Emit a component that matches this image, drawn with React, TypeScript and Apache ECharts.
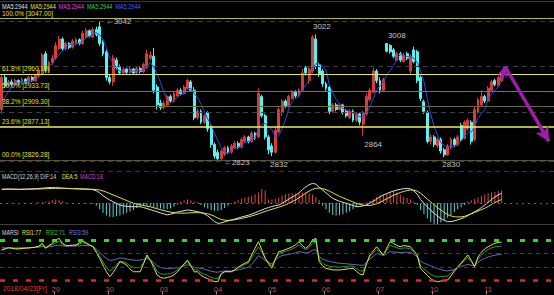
import React, { useEffect, useRef } from "react";
import * as echarts from "echarts";

// candles: [open, close, low, high]
const ohlc: number[][] = [
  [2905, 2955, 2898, 2958], [2955, 2942, 2938, 2960], [2942, 2948, 2940, 2951], [2948, 2944, 2940, 2952],
  [2944, 2950, 2942, 2953], [2950, 2946, 2943, 2952], [2946, 2952, 2944, 2955], [2952, 2947, 2944, 2954],
  [2947, 2955, 2945, 2958], [2955, 2950, 2948, 2957], [2950, 2958, 2948, 2961], [2958, 2966, 2955, 2970],
  [2960, 2990, 2958, 2993], [2992, 2965, 2962, 2996], [2965, 2978, 2963, 2981], [2978, 2985, 2975, 2990],
  [2985, 3005, 2982, 3010], [3000, 3015, 2998, 3020], [3015, 3000, 2996, 3018], [3000, 3008, 2997, 3011],
  [3008, 3002, 2999, 3010], [3002, 3012, 3000, 3015], [3008, 3014, 3005, 3017], [3014, 3008, 3005, 3016],
  [3008, 3024, 3006, 3028], [3018, 3028, 3015, 3032], [3028, 3020, 3017, 3030], [3018, 3030, 3016, 3033],
  [3030, 3022, 3019, 3034], [3034, 3008, 3004, 3042], [3010, 2992, 2988, 3013], [2995, 2955, 2950, 2998],
  [2955, 2948, 2944, 2960], [2948, 2985, 2942, 2990], [2982, 2970, 2967, 2986], [2972, 2962, 2959, 2975],
  [2962, 2968, 2960, 2971], [2968, 2963, 2960, 2970], [2963, 2968, 2961, 2971], [2968, 2962, 2959, 2970],
  [2962, 2969, 2960, 2972], [2969, 2964, 2961, 2971], [2964, 2975, 2962, 2978], [2970, 2992, 2968, 2998],
  [2985, 2990, 2982, 2996], [2988, 2935, 2930, 3001], [2940, 2912, 2905, 2944], [2915, 2908, 2904, 2920],
  [2908, 2915, 2905, 2918], [2912, 2925, 2910, 2928], [2925, 2918, 2915, 2928], [2918, 2930, 2916, 2933],
  [2926, 2935, 2924, 2938], [2935, 2930, 2927, 2938], [2930, 2940, 2928, 2943], [2938, 2950, 2936, 2953],
  [2948, 2935, 2932, 2951], [2935, 2892, 2888, 2940], [2892, 2902, 2889, 2906], [2902, 2885, 2882, 2905],
  [2885, 2895, 2882, 2898], [2900, 2875, 2870, 2902], [2878, 2850, 2845, 2880], [2850, 2832, 2828, 2853],
  [2838, 2828, 2823, 2842], [2828, 2840, 2826, 2843], [2835, 2845, 2832, 2848], [2845, 2838, 2835, 2848],
  [2838, 2848, 2836, 2851], [2845, 2852, 2843, 2855], [2852, 2846, 2843, 2855], [2846, 2858, 2844, 2861],
  [2855, 2862, 2853, 2865], [2862, 2855, 2852, 2864], [2855, 2868, 2853, 2871], [2868, 2860, 2857, 2870],
  [2862, 2930, 2860, 2938], [2925, 2895, 2892, 2928], [2895, 2862, 2858, 2898], [2862, 2842, 2835, 2865],
  [2848, 2838, 2832, 2852], [2838, 2872, 2836, 2878], [2870, 2905, 2868, 2908], [2900, 2918, 2895, 2921],
  [2918, 2910, 2907, 2921], [2910, 2925, 2908, 2928], [2922, 2932, 2920, 2935], [2932, 2926, 2923, 2935],
  [2926, 2935, 2924, 2938], [2935, 2962, 2933, 2968], [2970, 2962, 2958, 2973], [2950, 2968, 2945, 2971],
  [2965, 3018, 2962, 3021], [3015, 2972, 2968, 3022], [2975, 2960, 2956, 2978], [2965, 2945, 2940, 2968],
  [2945, 2938, 2934, 2948], [2940, 2902, 2898, 2942], [2902, 2912, 2900, 2915], [2912, 2905, 2902, 2915],
  [2905, 2912, 2903, 2915], [2912, 2900, 2897, 2914], [2902, 2895, 2892, 2905], [2892, 2902, 2890, 2905],
  [2902, 2888, 2885, 2905], [2888, 2898, 2885, 2901], [2898, 2885, 2880, 2900], [2882, 2900, 2864, 2903],
  [2898, 2925, 2895, 2930], [2920, 2935, 2918, 2938], [2932, 2965, 2930, 2970], [2965, 2950, 2946, 2968],
  [2950, 2935, 2930, 2955], [2935, 2952, 2932, 2955], [3008, 2996, 2994, 3008], [3005, 2995, 2992, 3007],
  [2998, 2988, 2985, 3001], [2982, 2992, 2980, 2995], [2992, 2982, 2979, 2995], [2980, 2990, 2978, 2993],
  [2992, 2985, 2982, 2995], [2965, 2988, 2960, 2991], [2998, 2980, 2977, 3003], [2995, 2950, 2946, 2998],
  [2955, 2922, 2918, 2958], [2917, 2902, 2898, 2920], [2900, 2855, 2852, 2903], [2855, 2862, 2850, 2866],
  [2862, 2850, 2846, 2865], [2848, 2858, 2845, 2861], [2858, 2840, 2836, 2861], [2842, 2834, 2830, 2845],
  [2834, 2848, 2832, 2851], [2845, 2858, 2843, 2861], [2858, 2850, 2847, 2861], [2850, 2862, 2848, 2865],
  [2880, 2858, 2855, 2884], [2860, 2885, 2858, 2888], [2875, 2888, 2872, 2891], [2885, 2855, 2850, 2888],
  [2858, 2905, 2855, 2910], [2900, 2920, 2898, 2923], [2912, 2925, 2910, 2935], [2925, 2918, 2915, 2928],
  [2918, 2938, 2916, 2941], [2935, 2948, 2933, 2951], [2950, 2944, 2941, 2953], [2942, 2955, 2940, 2958],
  [2950, 2960, 2948, 2964],
];
const priorCloses = [2890, 2900, 2905, 2915];

const dif = [
  19.6, 19.8, 20, 19.8, 19.6, 19.4, 19.6, 19.8, 20, 20.2,
  20.4, 20.8, 21.2, 21.6, 21.9, 22, 21.8, 21.6, 21.2, 20.8,
  20.6, 20.4, 20.2, 20, 19.8, 19.6, 19.4, 19,
  17.5, 14.5, 10.5, 7, 4.3, 1.5, -0.5, -2.9, -4, -4.8,
  -5.3, -5.3, -5.3, -5.3, -6.5, -8, -9.5, -11, -12.5, -14.2,
  -15.5, -17, -16, -14.5, -13, -12, -11, -10, -10.5, -11.5,
  -12.4, -13.5, -15.5, -18.5, -22.5, -26.5, -29, -28.5, -27, -25.5,
  -24.3, -23, -21.5, -20, -18.8, -17.5, -16, -14, -12, -10,
  -8, -6.5, -5, -3.8, -2.9, -0.5, 2.5, 5.5, 8.5, 11,
  14.5, 19, 23, 26, 28, 27, 22.5, 18.6, 14.5, 10.5,
  6.7, 4.5, 2.5, 1, -0.4, -2, -3.5, -5.3, -5, -4,
  -2.9, 0, 2.5, 5.5, 9, 11.5, 13.5, 15.5, 17, 18.5,
  19.5, 20.5, 21, 20, 17.5, 12.5, 5, -0.5, -5.5, -10.5,
  -14.5, -18.5, -22, -25, -26.7, -26.5, -25.5, -24, -22.5, -20.5,
  -18, -15, -12.5, -10, -6.5, -3, 1, 5, 8.5, 11.5, 14,
];
const dea = [
  19.6, 19.6, 19.7, 19.7, 19.7, 19.6, 19.6, 19.6, 19.7, 19.8,
  19.9, 20, 20.2, 20.4, 20.6, 20.8, 21, 21, 21, 20.9,
  20.8, 20.6, 20.5, 20.4, 20.2, 20, 19.8, 19.6,
  19.3, 18.6, 17.2, 15.5, 13.5, 11.5, 9.5, 7.5, 5.5, 3.5,
  1.5, -0.4, -1.5, -2.5, -3.5, -4.5, -5.5, -6.8, -8.2, -9.5,
  -10.8, -12, -13, -13.8, -14.3, -14.5, -14.5, -14.3, -14, -13.8,
  -13.8, -14, -14.5, -15.5, -17, -19, -21.5, -23.5, -24.5, -24.8,
  -24.5, -24, -23, -22, -21, -19.8, -18.5, -17, -15.5, -13.8,
  -12, -10.5, -9, -7.5, -6, -4.5, -2.5, -0.5, 2, 4.5,
  7.5, 10.5, 14, 17, 19.5, 21, 21.2, 20.5, 19, 17,
  14.5, 12, 9.5, 7.5, 5.5, 3.5, 1.5, -0.5, -2, -3,
  -3.5, -3.5, -2.5, -1, 1, 3.5, 6, 8.5, 11, 13,
  15, 16.5, 17.8, 18.6, 18.5, 17, 14, 10, 5.5, 1.5,
  -2.5, -6.5, -10, -13.5, -16.5, -18.5, -19.6, -20, -19.8, -19,
  -17.5, -15.5, -13.5, -11.5, -9.5, -7.5, -5, -2, 0.5, 3, 5,
];
const macdHist = [
  0.5, -0.5, 0.5, 0.5, -0.5, -0.5, 0.5, 0.5, 0.5, 0.5, 0.5, 1, 1, 1.5,
  2, 4, 5, 4, 2, 1, 0.5, -0.5, -0.5, -0.5, -0.5, -0.5, -0.5, -1,
  -4, -9, -14, -18, -19.6, -20, -19, -18, -16, -14,
  -12, -10, -7, -5, -4, -4, -5, -6, -7, -8,
  -9, -9, -8, -5, -2, 2, 4, 5, 4, 2, 1,
  -3, -6, -8, -10, -11, -11, -10, -7, -4, -1,
  2, 4, 6, 8, 9, 10, 12, 15, 20, 18,
  5, 5, 6, 8, 11, 13, 14, 14, 14, 14,
  15, 15, 14, 12, 9, 4, -4, -9, -14, -17,
  -18, -17, -16, -14, -12, -9, -5, -3, -1, 1,
  3, 6, 9, 11, 12, 13, 15, 16, 15, 12,
  9, 7, 5, 2, -3, -10, -16, -22, -27, -30,
  -30, -28, -25, -21, -17, -13, -9, -6, -3, 2,
  4, 6, 8, 10, 12, 14, 15, 16, 17, 18,
];
const rsi1 = [
  65, 67, 68.7, 68, 67, 66.8, 67.5, 68, 68.3, 69,
  69.5, 71, 75.2, 67.8, 72, 75.2, 80, 82.6, 75.2, 71.7,
  72, 72.5, 72.7, 76, 78.6, 76, 73, 70.2,
  62, 53, 43, 33.3, 26, 32, 40, 48.1, 46, 43.2,
  37, 33.3, 33.3, 33.3, 45, 58, 50, 40, 28.5, 25,
  23.6, 25, 26, 28.5, 33, 39, 45, 50.6, 42, 33,
  33.3, 28, 25, 23, 20.5, 19, 18.6, 30, 33.3, 33.3,
  33.3, 36, 40, 43.2, 46, 48.1, 58, 68, 77.6, 66,
  53.1, 45, 38.3, 52, 62.8, 64, 66, 67.8, 70, 73,
  77.6, 72, 67.8, 72, 80, 82.6, 48.1, 42, 38.3, 37,
  36, 36, 35.8, 36.5, 37, 38, 38.3, 34, 30, 28.5,
  45, 58, 64, 70.2, 64, 58, 68, 77.6, 75, 72,
  70, 72, 71, 70.2, 64, 58, 38.3, 33, 28, 23,
  20, 18.6, 19.5, 20.5, 21, 27, 34, 40, 46, 52,
  58, 50, 40.7, 55, 62, 67, 70.2, 73, 75.2, 76.5, 77,
];
const rsi2 = [
  66, 67.5, 68.5, 68, 67.5, 67.5, 68, 68.2, 68.5, 69,
  69.3, 70.5, 73, 69, 71, 73, 76, 78, 74, 72,
  72, 72, 72.2, 74, 76, 74.5, 72.5, 70.5,
  64, 56, 48, 40, 34, 38, 43, 49, 48, 46,
  42, 40, 39.5, 39.5, 47, 56, 50, 43, 34, 30.5,
  29.5, 30, 30.5, 32.5, 36, 40, 44, 48, 42, 36,
  36, 32, 29.5, 27.5, 25, 23.5, 23, 31, 33.5, 33.5,
  33.5, 36, 39, 41.5, 44, 46, 54, 62, 70, 62,
  53, 47, 42, 52, 60, 62, 63.5, 65, 67, 69.5,
  73, 69, 66, 69, 75, 77, 51, 46, 42.5, 41.5,
  40.5, 40.5, 40, 40.5, 41, 41.5, 41.5, 38, 35, 34,
  46, 56, 61, 66, 62, 58, 65, 72, 70.5, 68.5,
  67, 68.5, 68, 67, 62, 57, 42, 37.5, 33.5, 29.5,
  27, 25.5, 26, 26.5, 27, 31, 36, 40.5, 45, 49.5,
  54, 48, 41.5, 52, 58, 63, 66, 68.5, 70, 70.5, 71,
];
const rsi3 = [
  68.7, 68.5, 68.5, 68.4, 68.4, 68.5, 68.6, 68.7, 68.8, 69,
  69.2, 69.5, 70.5, 69.5, 70, 70.5, 72, 72.5, 71.5, 71,
  71, 71, 71.2, 71.5, 72, 71.8, 71.7, 71,
  67, 62, 57, 53, 50, 50.6, 52, 53.5, 53, 52,
  51, 50.5, 50.3, 50.3, 51.5, 53, 51, 47, 42, 39.5,
  38.5, 38.3, 38.3, 38.5, 39, 40, 42, 43.5, 42, 39.5,
  39, 38.3, 37, 35.5, 34, 33, 32.5, 34, 34.5, 34.5,
  34.5, 35, 36, 37, 38.5, 40, 44, 50, 57, 54,
  50, 47, 45, 50, 55, 57, 58, 59, 60, 61,
  63, 62, 61, 62, 65, 66, 55.5, 52, 50, 48.5,
  47.5, 46.5, 45.7, 45.5, 45, 44.5, 44, 43.5, 43.2, 42.5,
  47, 52, 56, 60.5, 59, 57, 60, 63, 62.5, 62,
  61.5, 62, 62, 61.5, 59, 55, 49, 46, 44, 42,
  40, 38, 36.5, 35, 34.4, 35.5, 37, 39, 41, 42.5,
  44, 43, 42, 47, 50.6, 53, 55, 56.5, 57.5, 58.5, 59,
];

const maLegend = ["MA5:2944", "MA5:2944", "MA5:2944", "MA5:2944", "MA5:2944"];
const fibPct = ["100.0%", "61.8%", "50.0%", "38.2%", "23.6%", "00.0%"];
const fibPrices = [3047.0, 2960.18, 2933.73, 2909.3, 2877.13, 2826.28];
const gridPrices = [3043.5, 2972, 2901, 2824];
const rsiLevels = [80, 60, 40, 20];
const dayStarts = [16, 32, 48, 64, 80, 96, 112, 128, 144];
const dayLabels = ["29", "30", "03", "04", "05", "06", "07", "10", "11"];
const firstDateLabel = "2018/04/23[Fr]";
const extremeIdx = [29, 93, 114, 64, 80, 107, 131];
const extremeVal = [3042, 3022, 3008, 2823, 2832, 2864, 2830];
const extremeArrow = [true, false, false, true, false, false, false];
const arrowPath = [
  [148, 2952],
  [149, 2972],
  [162, 2855],
];
const TOTAL_SLOTS = 164;

// ---- styles ----
const UP = "#d83c3c";
const DOWN = "#54f2f2";
const FONT = "Liberation Sans";
const fibStyles = [
  { color: "#b8b84c", width: 1 },
  { color: "#e2e25a", width: 1.2 },
  { color: "#7a7a36", width: 1 },
  { color: "#6a6a30", width: 1 },
  { color: "#f0f05c", width: 1.6 },
  { color: "#555540", width: 1 },
];
const maLegendColors = ["#e0e0e0", "#e6e640", "#e040e0", "#40d040", "#4a5cff"];
const extremePlace: any[] = [
  { position: "right", offset: [1, 0] },
  { position: "top", offset: [6, 1] },
  { position: "top", offset: [10, 1] },
  { position: "right", offset: [1, 1] },
  { position: "bottom", offset: [7, -1] },
  { position: "bottom", offset: [10, 0] },
  { position: "bottom", offset: [7, -2] },
];

export default function App() {
  const ref = useRef<HTMLDivElement>(null);
  useEffect(() => {
    document.body.style.margin = "0";
    document.body.style.background = "#000";
    if (!ref.current) return;
    const chart = echarts.init(ref.current, undefined, { renderer: "svg" });

    const cats = Array.from({ length: TOTAL_SLOTS }, (_, i) => String(i));
    const closes = ohlc.map((d) => d[1]);
    const hist = [...priorCloses, ...closes];
    const ma5 = closes.map((_, i) => {
      let s = 0;
      for (let k = 0; k < 5; k++) s += hist[i + k];
      return +(s / 5).toFixed(2);
    });
    const n = ohlc.length;
    const last = n - 1;

    const xAxisBase = (g: number) => ({
      type: "category",
      gridIndex: g,
      data: cats,
      boundaryGap: true,
      axisLine: { show: false },
      axisTick: { show: false },
      axisLabel: { show: false },
      splitLine: { show: false },
    });

    const txt = (text: string, x: number, y: number, fill: string, size = 7, sx = 0.8) => ({
      type: "text",
      x,
      y,
      scaleX: sx,
      silent: true,
      style: { text, fill, fontSize: size, fontFamily: FONT, verticalAlign: "top" },
    });

    const graphics: any[] = [
      { type: "line", silent: true, shape: { x1: 0, y1: 1.5, x2: 554, y2: 1.5 }, style: { stroke: "#3a3a3a", lineWidth: 1 } },
    ];
    let lx = 2;
    maLegend.forEach((t, k) => {
      graphics.push(txt(t, lx, 2.5, maLegendColors[k]));
      lx += 28.3;
    });
    graphics.push(txt(`MACD(12,26,9) DIF:${Math.round(dif[last])}`, 2, 172.5, "#d8d8d8", 7, 0.76));
    graphics.push(txt(`DEA:${Math.round(dea[last])}`, 62, 172.5, "#e6e640", 7, 0.76));
    graphics.push(txt(`MACD:${Math.round(macdHist[last])}`, 80, 172.5, "#d040d0", 7, 0.76));
    graphics.push(txt("MARSI", 2, 228.5, "#d8d8d8", 7, 0.76));
    graphics.push(txt(`RSI1:${Math.round(rsi1[last])}`, 22, 228.5, "#e6e640", 7, 0.76));
    graphics.push(txt(`RSI2:${Math.round(rsi2[last])}`, 46, 228.5, "#40c040", 7, 0.76));
    graphics.push(txt(`RSI3:${Math.round(rsi3[last])}`, 69, 228.5, "#7c7cd8", 7, 0.76));
    graphics.push(txt(firstDateLabel, 3, 285, "#d84040", 7.5, 0.9));

    const option: any = {
      backgroundColor: "#000",
      animation: false,
      textStyle: { fontFamily: FONT },
      graphic: graphics,
      grid: [
        { left: 0, width: 554, top: 3.8, height: 160 },
        { left: 0, width: 554, top: 170.8, height: 53.9 },
        { left: 0, width: 554, top: 226.5, height: 67.8 },
      ],
      xAxis: [
        xAxisBase(0),
        xAxisBase(1),
        {
          ...xAxisBase(2),
          axisTick: {
            show: true,
            inside: true,
            length: 3,
            interval: (idx: number) => dayStarts.includes(idx),
            lineStyle: { color: "#9a9a9a" },
          },
          axisLabel: {
            show: true,
            inside: true,
            margin: 1,
            interval: (idx: number) => dayStarts.includes(idx),
            formatter: (_v: string, idx: number) => {
              const k = dayStarts.indexOf(idx);
              return k >= 0 ? dayLabels[k] : "";
            },
            color: "#d84040",
            fontSize: 7.5,
            fontFamily: FONT,
          },
        },
      ],
      yAxis: [
        { type: "value", gridIndex: 0, min: 2820, max: 3070, show: false, splitLine: { show: false } },
        { type: "value", gridIndex: 1, min: -31, max: 46, show: false, splitLine: { show: false } },
        { type: "value", gridIndex: 2, min: 0, max: 100, show: false, splitLine: { show: false } },
      ],
      series: [
        {
          type: "candlestick",
          name: "K",
          xAxisIndex: 0,
          yAxisIndex: 0,
          data: ohlc,
          barWidth: 2.4,
          itemStyle: { color: UP, color0: DOWN, borderColor: UP, borderColor0: DOWN, borderWidth: 1 },
          markLine: {
            silent: true,
            symbol: ["none", "none"],
            animation: false,
            data: [
              ...gridPrices.map((p) => ({
                yAxis: p,
                lineStyle: { color: "#3e3e3e", type: [5, 4], width: 1 },
                label: { show: false },
              })),
              ...fibPrices.map((p, k) => ({
                yAxis: p,
                lineStyle: { color: fibStyles[k].color, width: fibStyles[k].width, type: "solid" },
                label: {
                  show: true,
                  position: "insideStartTop",
                  distance: [2, 2],
                  formatter: `${fibPct[k]} [${p.toFixed(2)}]`,
                  color: "#e2e200",
                  fontSize: 6.5,
                  fontFamily: FONT,
                },
              })),
            ],
          },
          markPoint: {
            symbol: "circle",
            symbolSize: 0,
            silent: true,
            data: extremeIdx.map((i, k) => ({
              coord: [i, extremeVal[k]],
              value: extremeVal[k],
              label: {
                show: true,
                formatter: (extremeArrow[k] ? "\u2190" : "") + String(extremeVal[k]),
                position: extremePlace[k].position,
                offset: extremePlace[k].offset,
                color: "#c4c4c4",
                fontSize: 8,
                fontFamily: FONT,
              },
            })),
          },
        },
        {
          type: "line",
          name: "MA5",
          xAxisIndex: 0,
          yAxisIndex: 0,
          data: ma5,
          showSymbol: false,
          symbol: "none",
          lineStyle: { color: "#3446dc", width: 1 },
          markLine: {
            silent: true,
            animation: false,
            label: { show: false },
            lineStyle: { color: "#9c1eac", width: 3.5, type: "solid" },
            data: [
              [
                { coord: arrowPath[0], symbol: "none" },
                { coord: arrowPath[1], symbol: "arrow", symbolSize: [8, 10] },
              ],
              [
                { coord: arrowPath[1], symbol: "none" },
                { coord: arrowPath[2], symbol: "arrow", symbolSize: [11, 14] },
              ],
            ],
          },
        },
        {
          type: "bar",
          name: "MACD",
          xAxisIndex: 1,
          yAxisIndex: 1,
          barWidth: 1,
          data: macdHist.map((v) => ({ value: v, itemStyle: { color: v >= 0 ? "#e04848" : "#58d4d4" } })),
          markLine: {
            silent: true,
            symbol: ["none", "none"],
            animation: false,
            label: { show: false },
            data: [
              { yAxis: 0, lineStyle: { color: "#6a6a6a", type: [2, 4], width: 1 } },
              { yAxis: 46, lineStyle: { color: "#3a3a3a", type: [5, 4], width: 1 } },
              { yAxis: -31, lineStyle: { color: "#3e3e3e", type: "solid", width: 1 } },
            ],
          },
        },
        {
          type: "line",
          name: "DIF",
          xAxisIndex: 1,
          yAxisIndex: 1,
          data: dif,
          showSymbol: false,
          symbol: "none",
          lineStyle: { color: "#dedede", width: 1 },
        },
        {
          type: "line",
          name: "DEA",
          xAxisIndex: 1,
          yAxisIndex: 1,
          data: dea,
          showSymbol: false,
          symbol: "none",
          lineStyle: { color: "#e2e24a", width: 1 },
        },
        {
          type: "line",
          name: "RSI3",
          xAxisIndex: 2,
          yAxisIndex: 2,
          data: rsi3,
          showSymbol: false,
          symbol: "none",
          lineStyle: { color: "#6a6ab8", width: 1 },
          markLine: {
            silent: true,
            symbol: ["none", "none"],
            animation: false,
            label: { show: false },
            data: [
              { yAxis: rsiLevels[0], lineStyle: { color: "#22e022", type: [5, 8], width: 3 } },
              { yAxis: rsiLevels[1], lineStyle: { color: "#444", type: [4, 4], width: 1 } },
              { yAxis: rsiLevels[2], lineStyle: { color: "#444", type: [4, 4], width: 1 } },
              { yAxis: rsiLevels[3], lineStyle: { color: "#e02a2a", type: [5, 8], width: 2.5 } },
            ],
          },
        },
        {
          type: "line",
          name: "RSI2",
          xAxisIndex: 2,
          yAxisIndex: 2,
          data: rsi2,
          showSymbol: false,
          symbol: "none",
          lineStyle: { color: "#2e9a2e", width: 1 },
        },
        {
          type: "line",
          name: "RSI1",
          xAxisIndex: 2,
          yAxisIndex: 2,
          data: rsi1,
          showSymbol: false,
          symbol: "none",
          lineStyle: { color: "#e2e24a", width: 1 },
        },
      ],
    };
    chart.setOption(option);
    return () => chart.dispose();
  }, []);
  return <div ref={ref} style={{ width: 554, height: 295, background: "#000" }} />;
}
